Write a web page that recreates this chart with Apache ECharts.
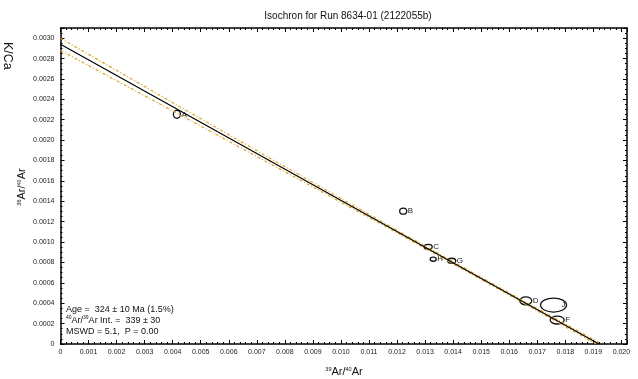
<!DOCTYPE html>
<html>
<head>
<meta charset="utf-8">
<script src="https://cdn.jsdelivr.net/npm/echarts@6/dist/echarts.min.js"></script>
<style>html,body{margin:0;padding:0;background:#fff}#container{width:638px;height:379px}</style>
</head>
<body>
<div id="container"></div>
<script>
// step analyses (39Ar/40Ar, 36Ar/40Ar) with 1-sigma half widths
var pointNames = ['A', 'B', 'C', 'H', 'G', 'D', 'J', 'F'];
var pointX = [0.00415, 0.01222, 0.01311, 0.01329, 0.01395, 0.01659, 0.01758, 0.01771];
var pointY = [0.002253, 0.001303, 0.000953, 0.000832, 0.000816, 0.000424, 0.000382, 0.000235];
var errX = [0.000125, 0.000125, 0.000143, 0.000107, 0.000143, 0.000214, 0.000464, 0.00025];
var errY = [0.000039, 0.000029, 0.000025, 0.00002, 0.000025, 0.000039, 0.000069, 0.000039];

// regression line end points
var fitX = [0, 0.0192];
var fitY = [0.00294, 0];

// confidence envelope
var bandX = [0, 0.004, 0.008, 0.012, 0.016, 0.0192];
var bandUpper = [0.003, 0.002367, 0.00174, 0.001115, 0.0005, 0.000015];
var bandLower = [0.00288, 0.002287, 0.00169, 0.001091, 0.00048, -0.000015];

var xMax = 0.0202, yMax = 0.0031;

var pts = pointX.map(function (x, i) { return [x, pointY[i], errX[i], errY[i], pointNames[i]]; });
var pairs = function (xs, ys) { return xs.map(function (x, i) { return [x, ys[i]]; }); };

var myChart = echarts.init(document.getElementById('container'));

var font = 'Liberation Sans, Arial, sans-serif';
function axis(opts, minorSplit) {
  return Object.assign({
    type: 'value', min: 0,
    axisLine: { onZero: false, lineStyle: { color: '#000', width: 1.5 } },
    axisTick: { inside: true, length: 4, lineStyle: { color: '#000' } },
    minorTick: { show: true, splitNumber: minorSplit, length: 2, lineStyle: { color: '#000' } },
    splitLine: { show: false },
    axisLabel: { show: false }
  }, opts);
}

var options = {
  animation: false,
  textStyle: { fontFamily: font },
  title: {
    text: 'Isochron for Run 8634-01 (2122055b)',
    left: 343, top: 6, textAlign: 'center',
    textStyle: { fontSize: 10, fontWeight: 'normal', color: '#111', fontFamily: font }
  },
  grid: { left: 60.5, right: 11, top: 28, bottom: 35, containLabel: false },
  xAxis: [
    axis({
      max: xMax, interval: 0.001, position: 'bottom',
      axisLabel: {
        fontSize: 7, color: '#222', margin: 5, showMaxLabel: false,
        formatter: function (v) { return v === 0 ? '0' : v.toFixed(3); }
      }
    }, 5),
    axis({ max: xMax, interval: 0.001, position: 'top' }, 5)
  ],
  yAxis: [
    axis({
      max: yMax, interval: 0.0002, position: 'left',
      axisLabel: {
        fontSize: 7, color: '#222', margin: 6, showMaxLabel: false,
        formatter: function (v) { return v === 0 ? '0' : v.toFixed(4); }
      }
    }, 4),
    axis({ max: yMax, interval: 0.0002, position: 'right' }, 4)
  ],
  graphic: [
    {
      type: 'text', left: 1, top: 42,
      rotation: -Math.PI / 2,
      style: { text: 'K/Ca', fontSize: 12.5, fill: '#111', fontFamily: font }
    },
    {
      type: 'text', x: 22, y: 187, rotation: Math.PI / 2,
      style: {
        text: '{s|36}Ar/{s|40}Ar', align: 'center', verticalAlign: 'middle', fill: '#111',
        fontSize: 11, fontFamily: font,
        rich: { s: { fontSize: 5.5, verticalAlign: 'top', fontFamily: font } }
      }
    },
    {
      type: 'text', x: 344, y: 372,
      style: {
        text: '{s|39}Ar/{s|40}Ar', align: 'center', verticalAlign: 'middle', fill: '#111',
        fontSize: 11, fontFamily: font,
        rich: { s: { fontSize: 5.5, verticalAlign: 'top', fontFamily: font } }
      }
    },
    {
      type: 'text', x: 66, y: 304,
      style: {
        text: 'Age =  324 \u00b1 10 Ma (1.5%)\n{s|40}Ar/{s|39}Ar Int. =  339 \u00b1 30\nMSWD = 5.1,  P = 0.00',
        fill: '#111', fontSize: 9, lineHeight: 11, fontFamily: font,
        rich: { s: { fontSize: 5, verticalAlign: 'top', lineHeight: 11, fontFamily: font } }
      }
    }
  ],
  series: [
    {
      type: 'line', data: pairs(bandX, bandUpper), symbol: 'none', silent: true,
      lineStyle: { color: '#e8a317', width: 1.2, type: [3, 2, 1, 2] }
    },
    {
      type: 'line', data: pairs(bandX, bandLower), symbol: 'none', silent: true,
      lineStyle: { color: '#e8a317', width: 1.2, type: [3, 2, 1, 2] }
    },
    {
      type: 'line', data: pairs(fitX, fitY), symbol: 'none', silent: true,
      lineStyle: { color: '#000', width: 1.2 }
    },
    {
      type: 'custom', data: pts,
      renderItem: function (params, api) {
        var c = api.coord([api.value(0), api.value(1)]);
        var s = api.size([api.value(2), api.value(3)]);
        return {
          type: 'group',
          children: [
            {
              type: 'ellipse',
              shape: { cx: c[0], cy: c[1], rx: s[0], ry: s[1] },
              style: { fill: 'none', stroke: '#111', lineWidth: 1.3 }
            },
            {
              type: 'text', x: c[0] + Math.min(s[0] + 1, 8), y: c[1],
              style: { text: pts[params.dataIndex][4], fontSize: 8, fill: '#222', verticalAlign: 'middle', fontFamily: font }
            }
          ]
        };
      }
    }
  ]
};

myChart.setOption(options);
</script>
</body>
</html>
